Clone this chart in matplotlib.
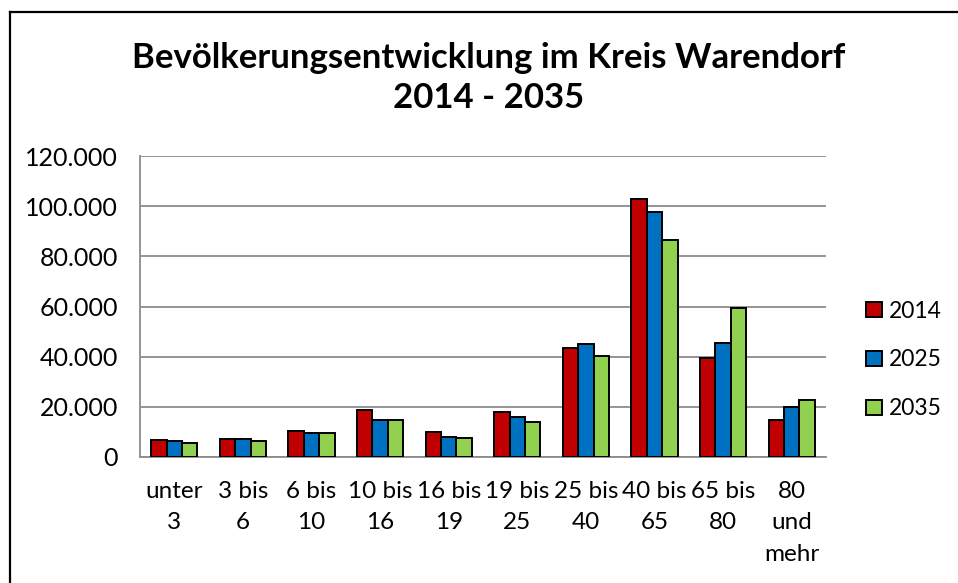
import matplotlib
matplotlib.use("Agg")
import matplotlib.pyplot as plt
import numpy as np
from matplotlib.lines import Line2D

categories = ["unter\n3", "3 bis\n6", "6 bis\n10", "10 bis\n16", "16 bis\n19",
              "19 bis\n25", "25 bis\n40", "40 bis\n65", "65 bis\n80", "80\nund\nmehr"]
series_names = ["2014", "2025", "2035"]
v2014 = [6700, 7100, 10500, 18800, 10000, 17800, 43300, 103000, 39500, 14800]
v2025 = [6300, 7000, 9700, 14900, 8000, 16000, 45200, 97800, 45300, 20100]
v2035 = [5600, 6400, 9500, 14600, 7500, 14000, 40100, 86400, 59300, 22800]
yticks = [0, 20000, 40000, 60000, 80000, 100000, 120000]
ytick_labels = ["0", "20.000", "40.000", "60.000", "80.000", "100.000", "120.000"]
colors = ["#C00000", "#0070C0", "#92D050"]

plt.rcParams['font.family'] = ['Lato', 'DejaVu Sans']

W, H = 958, 583
fig = plt.figure(figsize=(W / 100, H / 100), dpi=100)
ax = fig.add_axes([140/W, 1 - 457/H, (826-140)/W, (457-156)/H])

x = np.arange(len(categories))
w = 0.225
for i, (vals, name) in enumerate(zip([v2014, v2025, v2035], series_names)):
    ax.bar(x + (i - 1) * w, vals, width=w, color=colors[i], edgecolor="black",
           linewidth=1.4, label=name, zorder=3)

ax.set_xlim(-0.5, len(categories) - 0.5)
ax.set_ylim(0, 120000)
ax.set_yticks(yticks)
ax.set_yticklabels(ytick_labels, fontsize=18)
ax.set_xticks(x)
ax.set_xticklabels(categories, fontsize=17.5, linespacing=1.62)
ax.tick_params(axis='y', length=0, pad=16)
ax.tick_params(axis='x', length=0, pad=17)
ax.grid(axis='y', color="#8c8c8c", linewidth=1.3, zorder=0)
for s in ["top", "right"]:
    ax.spines[s].set_visible(False)
ax.spines["left"].set_color("#8c8c8c")
ax.spines["bottom"].set_color("#8c8c8c")
ax.spines["left"].set_linewidth(1.3)
ax.spines["bottom"].set_linewidth(1.3)

fig.text(489/W, 1 - 58/H, "Bevölkerungsentwicklung im Kreis Warendorf",
         ha="center", va="center", fontsize=25, fontweight="bold")
fig.text(489/W, 1 - 98/H, "2014 - 2035",
         ha="center", va="center", fontsize=25, fontweight="bold")

leg = fig.legend(loc="center left", bbox_to_anchor=(866/W, 1 - 360/H),
                 frameon=False, fontsize=16.5, handlelength=0.68, handleheight=0.68,
                 labelspacing=1.22, handletextpad=0.3, borderpad=0, borderaxespad=0)

fig.add_artist(Line2D([9.5/W, 1.0], [1 - 12/H, 1 - 12/H], transform=fig.transFigure,
                      color="black", linewidth=1.6))
fig.add_artist(Line2D([9.5/W, 9.5/W], [0.0, 1 - 12/H], transform=fig.transFigure,
                      color="black", linewidth=1.6))

fig.savefig("out.png", dpi=100)
